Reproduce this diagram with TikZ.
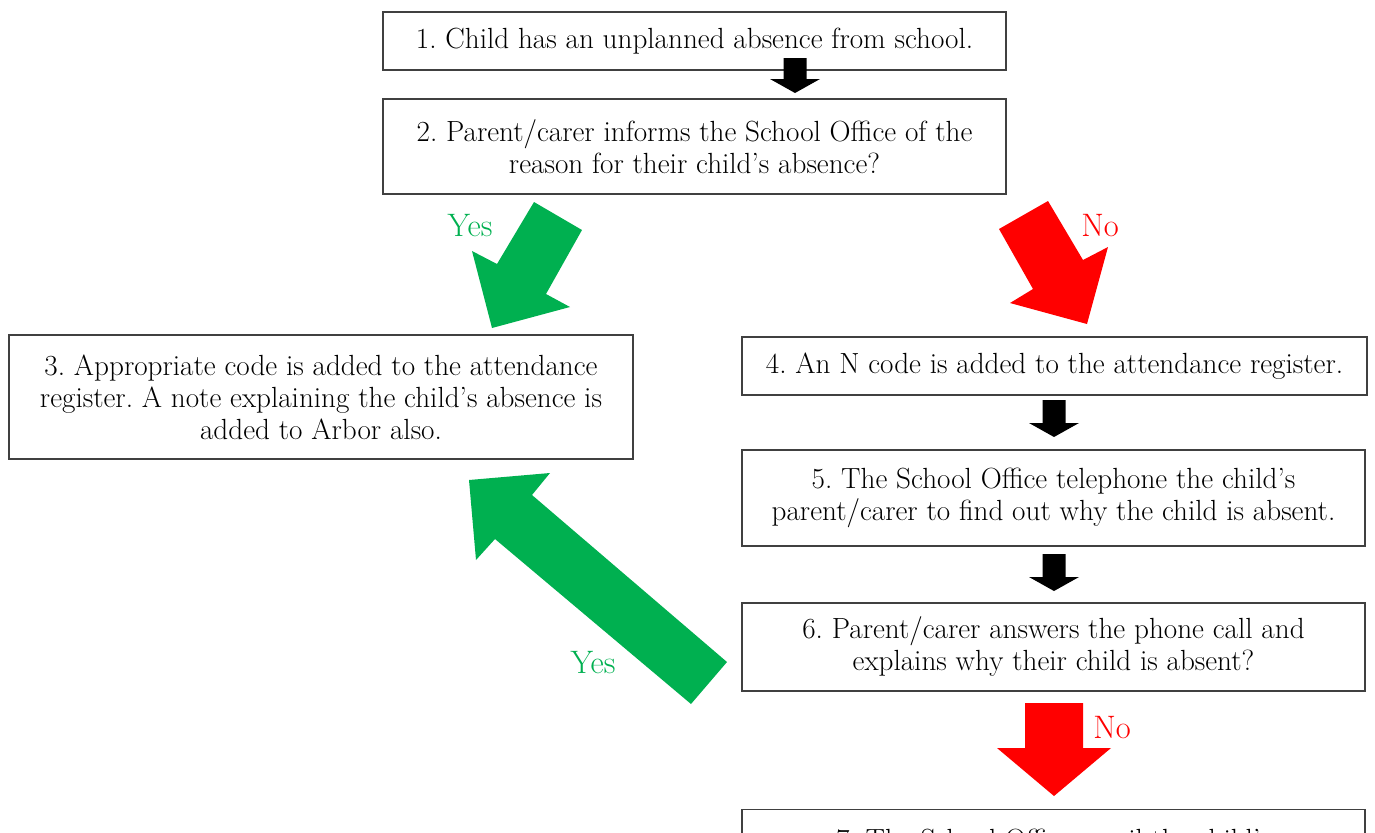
\documentclass[tikz,border=0pt]{standalone}
\definecolor{yesgreen}{HTML}{00B050}
\definecolor{nored}{HTML}{FF0000}

\begin{document}
\frenchspacing
\begin{tikzpicture}[x=0.02cm,y=-0.02cm,
  box/.style={draw=black!75,line width=0.8pt,align=center,inner sep=0pt,font=\fontsize{16.6}{18.2}\selectfont},
  answer/.style={font=\fontsize{18.5}{20}\selectfont}]
\useasboundingbox (0,0) rectangle (1375,832);

% the boxes, placed at pixel positions of the original
\node[box,minimum width=12.46cm,minimum height=1.16cm] (one) at (694.5,41) {1. Child has an unplanned absence from school.};
\node[box,minimum width=12.46cm,minimum height=1.9cm] (two) at (694.5,146.5) {2. Parent/carer informs the School Office of the\\reason for their child's absence?};
\node[box,minimum width=12.48cm,minimum height=2.48cm] (three) at (321,397) {3. Appropriate code is added to the attendance\\register. A note explaining the child's absence is\\added to Arbor also.};
\node[box,minimum width=12.5cm,minimum height=1.16cm] (four) at (1054.5,366) {4. An N code is added to the attendance register.};
\node[box,minimum width=12.46cm,minimum height=1.92cm] (five) at (1053.5,498) {5. The School Office telephone the child's\\parent/carer to find out why the child is absent.};
\node[box,minimum width=12.46cm,minimum height=1.76cm] (six) at (1053.5,647) {6. Parent/carer answers the phone call and\\explains why their child is absent?};
\node[box,anchor=north,minimum width=12.46cm,inner ysep=11pt] (seven) at (1053.5,809) {7. The School Office email the child's};

% black block arrows straight down
\foreach \x/\y/\l in {795/58/35,1054/400/37,1054/554/37}
  \fill[black] (\x-11.5,\y) -- (\x+11.5,\y) -- (\x+11.5,\y+\l-14) -- (\x+25,\y+\l-14) -- (\x,\y+\l) -- (\x-25,\y+\l-14) -- (\x-11.5,\y+\l-14) -- cycle;

% yes / no after box 2
\fill[yesgreen] (534,202) -- (582,230) -- (546,294) -- (570,307) -- (492,328) -- (472,251) -- (497,264) -- cycle;
\fill[nored] (999,229) -- (1048,201) -- (1083,260) -- (1108,247) -- (1087,324) -- (1010,303) -- (1033,289) -- cycle;
\node[answer,text=yesgreen] (yesa) at (470,226) {Yes};
\node[answer,text=nored] (noa) at (1100,226) {No};

% yes / no after box 6
\fill[yesgreen] (727,662) -- (532,495) -- (550,473) -- (469,480) -- (476,560) -- (495,539) -- (691,704) -- cycle;
\fill[nored] (1025,703) -- (1083,703) -- (1083,748) -- (1111,748) -- (1054,796) -- (997,748) -- (1025,748) -- cycle;
\node[answer,text=yesgreen] (yesb) at (593,663) {Yes};
\node[answer,text=nored] (nob) at (1112,728) {No};
\end{tikzpicture}
\end{document}
